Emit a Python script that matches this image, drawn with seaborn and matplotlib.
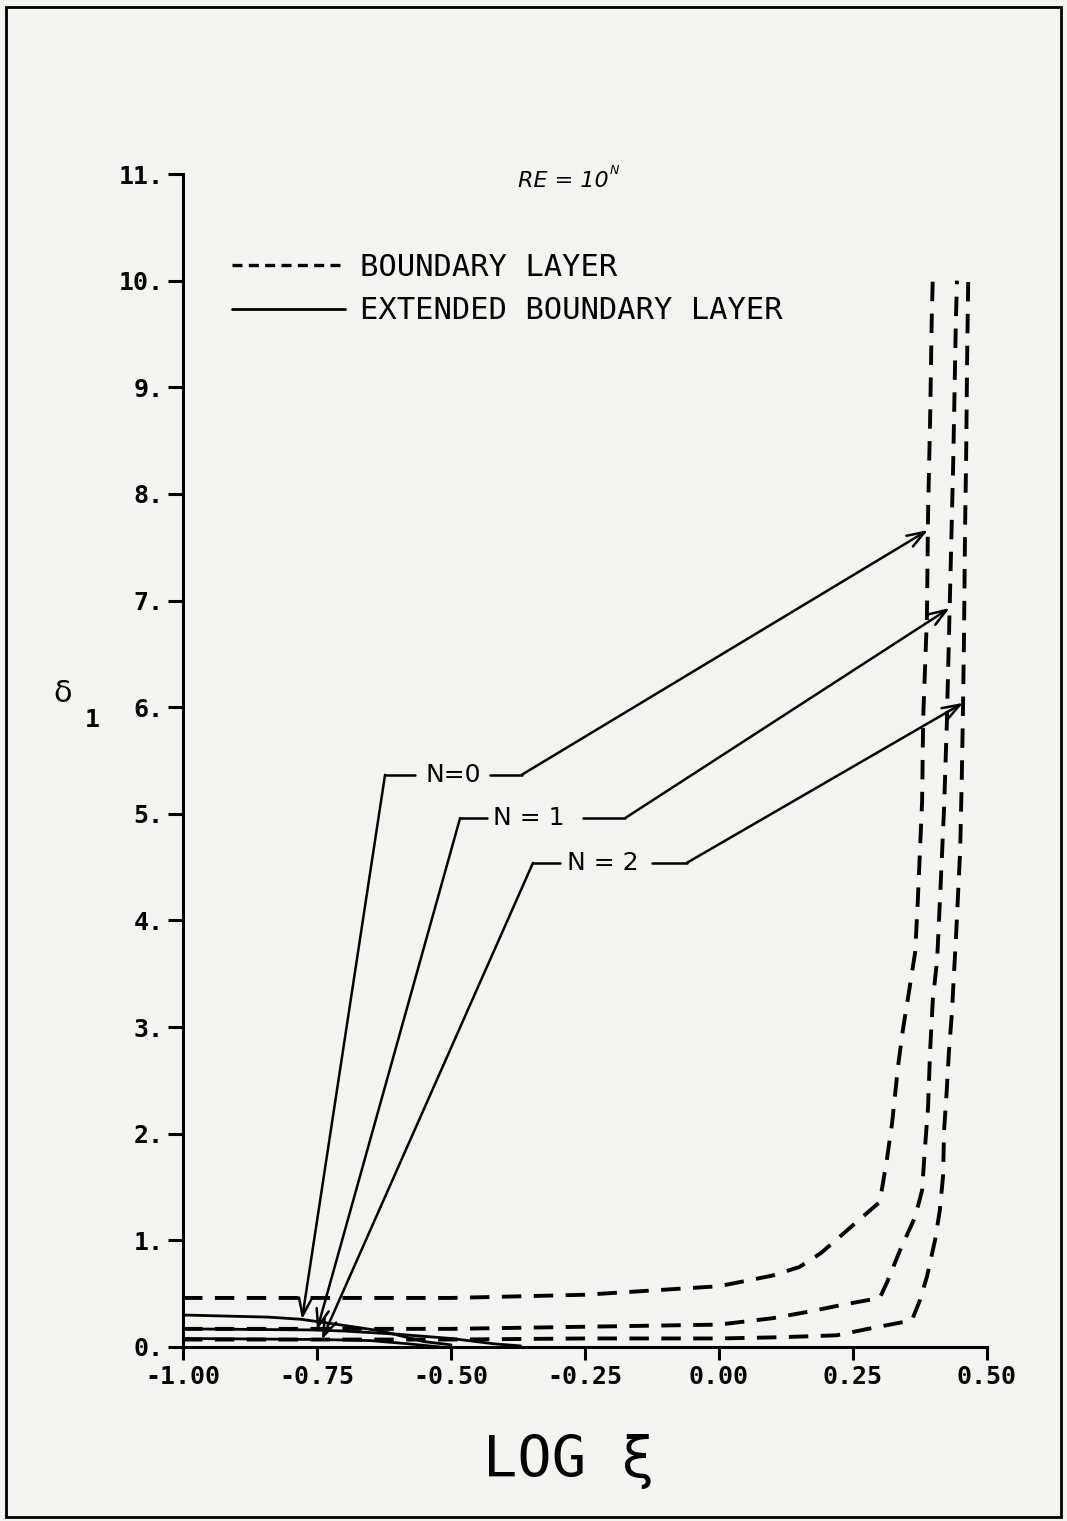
import numpy as np
import pandas as pd
import matplotlib
matplotlib.use('Agg')
import matplotlib.pyplot as plt
import seaborn as sns
from matplotlib.lines import Line2D
from matplotlib.patches import Rectangle

# style giong ban scan cu
sns.set_style('ticks')
plt.rcParams['font.family'] = ['DejaVu Sans Mono', 'DejaVu Sans']
plt.rcParams['text.color'] = 'black'
plt.rcParams['axes.labelcolor'] = 'black'
plt.rcParams['xtick.color'] = 'black'
plt.rcParams['ytick.color'] = 'black'
plt.rcParams['axes.edgecolor'] = 'black'
paper = '#f3f3f2'

# --- du lieu doc tu hinh ---
# boundary layer (net dut), N = 0, 1, 2
bl0_x = [-1.0, -0.5, -0.25, 0.0, 0.10, 0.15, 0.19, 0.245, 0.30, 0.313, 0.323, 0.334,
         0.343, 0.356, 0.366, 0.371, 0.375, 0.379, 0.381, 0.388, 0.39, 0.394, 0.397, 0.399]
bl0_y = [0.46, 0.46, 0.49, 0.57, 0.67, 0.75, 0.88, 1.12, 1.36, 1.75, 2.10, 2.63,
         2.97, 3.38, 3.70, 4.19, 4.66, 5.12, 5.9, 6.85, 7.79, 8.72, 9.66, 10.04]

bl1_x = [-1.0, -0.5, -0.25, 0.0, 0.10, 0.166, 0.235, 0.30, 0.313, 0.338, 0.366, 0.379,
         0.384, 0.39, 0.394, 0.399, 0.407, 0.414, 0.42, 0.425, 0.43, 0.437, 0.442, 0.444]
bl1_y = [0.17, 0.17, 0.19, 0.21, 0.27, 0.33, 0.40, 0.46, 0.60, 0.91, 1.22, 1.47,
         1.85, 2.24, 2.79, 3.26, 3.63, 4.38, 5.06, 5.83, 6.85, 8.29, 9.63, 10.0]

bl2_x = [-1.0, -0.5, -0.25, 0.0, 0.10, 0.166, 0.22, 0.278, 0.36, 0.375, 0.388, 0.403,
         0.412, 0.418, 0.42, 0.425, 0.429, 0.435, 0.438, 0.442, 0.446, 0.45, 0.453,
         0.455, 0.457, 0.459, 0.461, 0.463, 0.465]
bl2_y = [0.07, 0.07, 0.08, 0.08, 0.09, 0.10, 0.11, 0.17, 0.25, 0.44, 0.66, 1.0,
         1.28, 1.6, 2.03, 2.41, 2.77, 3.16, 3.47, 3.82, 4.24, 4.66, 5.34,
         5.9, 6.6, 7.63, 8.29, 9.28, 10.0]

# extended boundary layer (net lien)
ebl0_x = [-1.0, -0.84, -0.78, -0.71, -0.63, -0.55, -0.50]
ebl0_y = [0.30, 0.28, 0.26, 0.21, 0.15, 0.05, 0.02]
ebl1_x = [-1.0, -0.76, -0.70, -0.60, -0.50, -0.42, -0.37]
ebl1_y = [0.17, 0.16, 0.15, 0.12, 0.08, 0.03, 0.01]
ebl2_x = [-1.0, -0.74, -0.65, -0.58, -0.52]
ebl2_y = [0.08, 0.07, 0.06, 0.03, 0.0]

x_ticks = [-1.0, -0.75, -0.5, -0.25, 0.0, 0.25, 0.5]
y_ticks = list(range(0, 12))

n_labels = ['N=0', 'N = 1', 'N = 2']
# y cua dau mui ten tren duong net dut
arrow_bl_y = [7.66, 6.93, 6.04]
# x cua dau mui ten tren duong net lien
arrow_ebl_x = [-0.778, -0.75, -0.741]

bl = [(bl0_x, bl0_y), (bl1_x, bl1_y), (bl2_x, bl2_y)]
ebl = [(ebl0_x, ebl0_y), (ebl1_x, ebl1_y), (ebl2_x, ebl2_y)]

# --- ve ---
fig = plt.figure(figsize=(10.67, 15.21), dpi=100, facecolor=paper)
ax = fig.add_axes([0.1715, 0.1144, 0.7535, 0.7712])
ax.set_facecolor(paper)

dash_style = (0, (5.0, 3.2))
for xs, ys in bl:
    sns.lineplot(x=xs, y=ys, ax=ax, color='black', lw=2.8, linestyle=dash_style,
                 estimator=None, sort=False, legend=False)
for xs, ys in ebl:
    sns.lineplot(x=xs, y=ys, ax=ax, color='black', lw=2.0,
                 estimator=None, sort=False, legend=False)

ax.set_xlim(-1.0, 0.5)
ax.set_ylim(0, 11)
ax.set_xticks(x_ticks)
ax.set_xticklabels([f'{v:.2f}' for v in x_ticks])
ax.set_yticks(y_ticks)
ax.set_yticklabels([f'{v}.' for v in y_ticks])
ax.tick_params(axis='x', length=9, width=2.2, pad=4, labelsize=18)
ax.tick_params(axis='y', length=11, width=2.2, pad=3, labelsize=18)
for lab in ax.get_xticklabels() + ax.get_yticklabels():
    lab.set_fontweight('bold')
sns.despine(ax=ax)
for s in ['left', 'bottom']:
    ax.spines[s].set_linewidth(2.2)

ax.set_xlabel('LOG ξ', fontsize=41, labelpad=0)
ax.xaxis.set_label_coords(0.48, -0.074)
ax.set_ylabel('')
ax.text(-0.150, 0.5575, 'δ', transform=ax.transAxes, fontsize=22,
        ha='center', va='center', family='DejaVu Sans')
ax.text(-0.113, 0.5345, '1', transform=ax.transAxes, fontsize=18,
        fontweight='bold', ha='center', va='center')

ax.text(-0.29, 10.93, 'RE = 10', fontsize=16, style='italic', family='DejaVu Sans',
        ha='center', va='center')
ax.text(-0.195, 11.03, 'N', fontsize=9, style='italic', family='DejaVu Sans',
        ha='center', va='center')

# chu thich
handles = [Line2D([], [], color='black', lw=2.4, linestyle=(0, (3.0, 1.9))),
           Line2D([], [], color='black', lw=2.0)]
ax.legend(handles, ['BOUNDARY LAYER', 'EXTENDED BOUNDARY LAYER'], loc='upper left',
          bbox_to_anchor=(0.061, 0.933), frameon=False, handlelength=3.7,
          handletextpad=0.5, labelspacing=0.48, borderpad=0, borderaxespad=0,
          prop={'family': 'DejaVu Sans Mono', 'size': 22})

# nhan N va mui ten
label_pos = [(-0.496, 5.366), (-0.354, 4.96), (-0.216, 4.54)]
left_dash = [(-0.623, -0.567), (-0.483, -0.433), (-0.347, -0.297)]
right_dash = [(-0.427, -0.368), (-0.254, -0.175), (-0.125, -0.060)]
arrow_kw = dict(arrowstyle='->,head_length=0.7,head_width=0.25', color='black',
                lw=1.8, shrinkA=0, shrinkB=0, mutation_scale=18)
for i, name in enumerate(n_labels):
    lx, ly = label_pos[i]
    ax.text(lx, ly, name, fontsize=18, family='DejaVu Sans', ha='center', va='center')
    ax.plot(left_dash[i], [ly, ly], color='black', lw=1.8)
    ax.plot(right_dash[i], [ly, ly], color='black', lw=1.8)
    # ben trai -> net lien
    ex, ey = ebl[i]
    tx = arrow_ebl_x[i]
    ty = np.interp(tx, ex, ey)
    ax.annotate('', xy=(tx, ty), xytext=(left_dash[i][0], ly), arrowprops=arrow_kw)
    # ben phai -> net dut
    bx, by = bl[i]
    ty2 = arrow_bl_y[i]
    tx2 = np.interp(ty2, by, bx)
    ax.annotate('', xy=(tx2, ty2), xytext=(right_dash[i][1], ly), arrowprops=arrow_kw)

# khung vien trang
fig.patches.append(Rectangle((6 / 1067, 1 - 1517 / 1521), 1055 / 1067, 1510 / 1521,
                             transform=fig.transFigure, fill=False, lw=2.0,
                             edgecolor='black'))

fig.savefig('out.png', dpi=100, facecolor=paper)
